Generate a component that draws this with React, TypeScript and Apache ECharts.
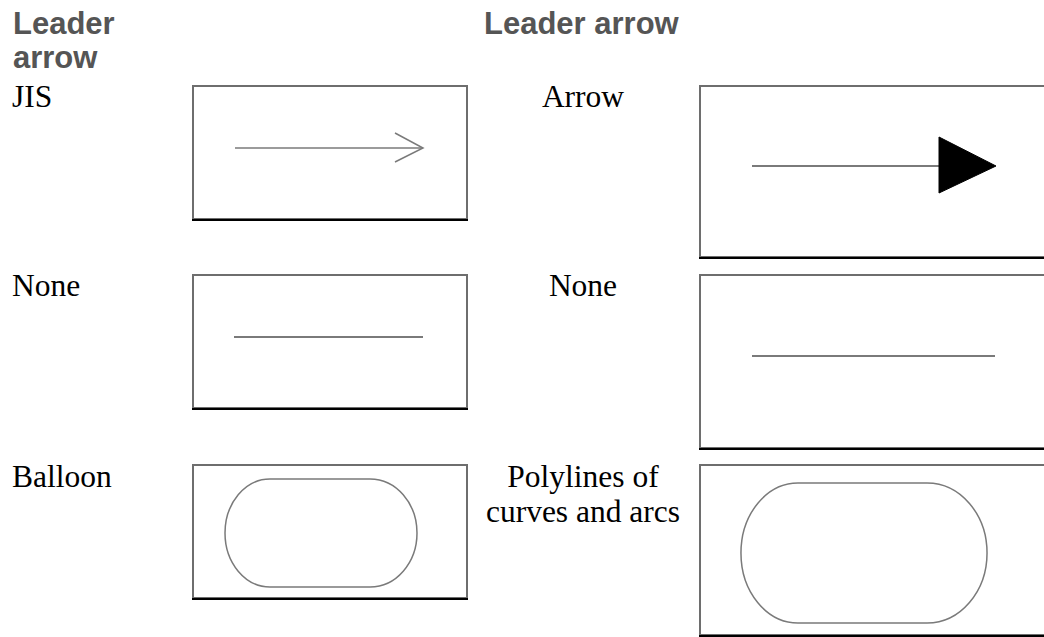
import React, { useEffect, useRef } from "react";
import * as echarts from "echarts";

// ---- content ----
const HEADERS = ["Leader arrow", "Leader arrow"];
const LEFT_STYLES = ["JIS", "None", "Balloon"];
const RIGHT_STYLES = ["Arrow", "None", "Polylines of\ncurves and arcs"];
const LEFT_SAMPLES = ["openArrow", "none", "balloon"];
const RIGHT_SAMPLES = ["filledArrow", "none", "balloon"];

// ---- layout ----
const LEFT_BOXES = [
  [193, 86, 274, 133],
  [193, 275, 274, 133],
  [193, 465, 274, 133],
];
const RIGHT_BOXES = [
  [700, 86, 380, 171],
  [700, 275, 380, 173],
  [700, 465, 380, 170],
];
const LEFT_BASELINES = [107, 296, 487];
const RIGHT_BASELINES = [107, 296, 487];

const SERIF = "Liberation Serif, Times New Roman, serif";
const SANS = "Liberation Sans, Arial, sans-serif";
const SERIF_SIZE = 31.5;
const SANS_SIZE = 31;
const LINE_GRAY = "#7a7a7a";
const BORDER_GRAY = "#6e6e6e";

function balloonPath(x0: number, y0: number, x1: number, y1: number, s0: number, s1: number) {
  const ry = (y1 - y0) / 2;
  const rxL = s0 - x0;
  const rxR = x1 - s1;
  return `M${s0},${y0} L${s1},${y0} A${rxR},${ry} 0 0 1 ${s1},${y1} L${s0},${y1} A${rxL},${ry} 0 0 1 ${s0},${y0} Z`;
}

let registered = false;
function registerShapes() {
  if (registered) return;
  registered = true;
  echarts.graphic.registerShape(
    "balloonSmall",
    (echarts.graphic as any).extendPath(balloonPath(225, 479, 417, 587, 270, 370), {})
  );
  echarts.graphic.registerShape(
    "balloonLarge",
    (echarts.graphic as any).extendPath(balloonPath(741, 483, 987, 623, 798, 927), {})
  );
}

function boxElements(b: number[]) {
  const [x, y, w, h] = b;
  return [
    {
      type: "rect",
      shape: { x, y, width: w, height: h },
      style: { fill: "#fff", stroke: BORDER_GRAY, lineWidth: 2 },
    },
    {
      type: "line",
      shape: { x1: x - 1, y1: y + h + 1, x2: x + w + 1, y2: y + h + 1 },
      style: { stroke: "#000", lineWidth: 2 },
    },
  ];
}

function textLines(text: string, x: number, baseline: number, align: string, font: string, size: number, color: string, weight: string, lh: number) {
  const off = font === SERIF ? 0.3375 : 0.3465;
  return text.split("\n").map((line, i) => ({
    type: "text",
    style: {
      text: line,
      x,
      y: baseline + i * lh - off * size,
      align,
      verticalAlign: "middle",
      fontFamily: font,
      fontSize: size,
      fontWeight: weight,
      fill: color,
    },
  }));
}

function sampleElements(kind: string, side: "L" | "R") {
  const els: any[] = [];
  if (side === "L") {
    if (kind === "openArrow") {
      els.push({ type: "line", shape: { x1: 235, y1: 148, x2: 423, y2: 148 }, style: { stroke: LINE_GRAY, lineWidth: 1.5 } });
      els.push({ type: "polyline", shape: { points: [[395, 133], [423, 148], [395, 162]] }, style: { stroke: LINE_GRAY, lineWidth: 1.5, fill: null } });
    } else if (kind === "none") {
      els.push({ type: "line", shape: { x1: 234, y1: 337, x2: 423, y2: 337 }, style: { stroke: LINE_GRAY, lineWidth: 2 } });
    } else if (kind === "balloon") {
      els.push({ type: "balloonSmall", x: 0, y: 0, scaleX: 1, scaleY: 1, style: { stroke: LINE_GRAY, lineWidth: 1.5, fill: null } });
    }
  } else {
    if (kind === "filledArrow") {
      els.push({ type: "line", shape: { x1: 752, y1: 166, x2: 940, y2: 166 }, style: { stroke: LINE_GRAY, lineWidth: 2 } });
      els.push({ type: "polygon", shape: { points: [[939, 137], [996, 166], [939, 193]] }, style: { fill: "#000", stroke: "#000", lineWidth: 1 } });
    } else if (kind === "none") {
      els.push({ type: "line", shape: { x1: 752, y1: 356, x2: 995, y2: 356 }, style: { stroke: LINE_GRAY, lineWidth: 2 } });
    } else if (kind === "balloon") {
      els.push({ type: "balloonLarge", x: 0, y: 0, scaleX: 1, scaleY: 1, style: { stroke: LINE_GRAY, lineWidth: 1.5, fill: null } });
    }
  }
  return els;
}

export default function App() {
  const ref = useRef<HTMLDivElement>(null);
  useEffect(() => {
    if (!ref.current) return;
    registerShapes();
    const chart = echarts.init(ref.current, null, { renderer: "svg" });
    const elements: any[] = [];

    // headers
    elements.push(...textLines(HEADERS[0].split(" ").join("\n"), 13, 34, "left", SANS, SANS_SIZE, "#555555", "bold", 34));
    elements.push(...textLines(HEADERS[1], 484, 34, "left", SANS, SANS_SIZE, "#555555", "bold", 34));

    LEFT_STYLES.forEach((label, i) => {
      elements.push(...textLines(label, 12, LEFT_BASELINES[i], "left", SERIF, SERIF_SIZE, "#000", "normal", 35));
      elements.push(...boxElements(LEFT_BOXES[i]));
      elements.push(...sampleElements(LEFT_SAMPLES[i], "L"));
    });
    RIGHT_STYLES.forEach((label, i) => {
      elements.push(...textLines(label, 583, RIGHT_BASELINES[i], "center", SERIF, SERIF_SIZE, "#000", "normal", 35));
      elements.push(...boxElements(RIGHT_BOXES[i]));
      elements.push(...sampleElements(RIGHT_SAMPLES[i], "R"));
    });

    chart.setOption({
      animation: false,
      backgroundColor: "#ffffff",
      graphic: { elements },
    });
    return () => chart.dispose();
  }, []);
  return (
    <div
      ref={ref}
      style={{ position: "absolute", left: 0, top: 0, width: 1044, height: 637, background: "#fff" }}
    />
  );
}
